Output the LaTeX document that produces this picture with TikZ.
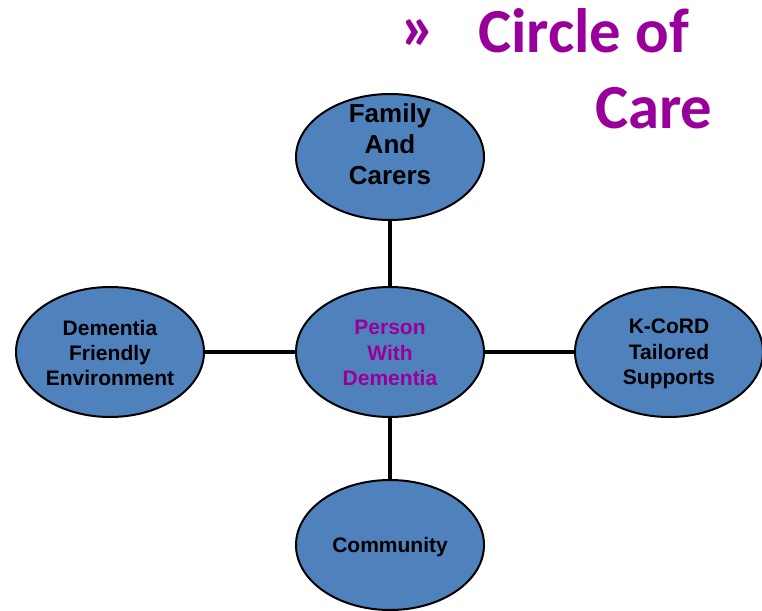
\documentclass[tikz,border=0pt]{standalone}
\usepackage{fontspec}
\setmainfont{Liberation Sans}
\newfontfamily\titlefont{Carlito}
\usetikzlibrary{shapes.geometric}
\definecolor{careblue}{HTML}{4F81BD}
\definecolor{carepurple}{HTML}{990099}
\tikzset{
  blob/.style={ellipse, draw=black, line width=1.5pt, fill=careblue,
    minimum width=141pt, minimum height=97.5pt, inner sep=0pt},
  blobtext/.style={align=center, font=\bfseries\fontsize{15.75pt}{18.9pt}\selectfont},
  link/.style={line width=3.5pt}
}
\begin{document}
\begin{tikzpicture}[x=0.75pt, y=-0.75pt]
\useasboundingbox (0,0) rectangle (762,610);

\node[blob, minimum height=94.5pt] (family) at (390,157) {};
\node[blob] (person) at (390,352) {};
\node[blob] (friendly) at (110,352) {};
\node[blob] (kcord) at (669,352) {};
\node[blob] (community) at (390,545) {};

\draw[link] (person) -- (family);
\draw[link] (person) -- (friendly);
\draw[link] (person) -- (kcord);
\draw[link] (person) -- (community);

\node[blobtext, font=\bfseries\fontsize{19.5pt}{23.4pt}\selectfont] (familytext) at (390,144) {Family\\And\\Carers};
\node[blobtext, text=carepurple] (persontext) at (390,353) {Person\\With\\Dementia};
\node[blobtext] (friendlytext) at (110,353) {Dementia\\Friendly\\Environment};
\node[blobtext] (kcordtext) at (669,354) {K-CoRD\\Tailored\\Supports};
\node[blobtext] (communitytext) at (390,547) {Community};

\node[inner sep=0pt, text=carepurple, font=\titlefont\bfseries\fontsize{50pt}{50pt}\selectfont] (mark) at (418,35) {»};
\node[anchor=base west, inner sep=0pt, text=carepurple, font=\titlefont\bfseries\fontsize{47pt}{47pt}\selectfont] (title1) at (478,52) {Circle of};
\node[anchor=base west, inner sep=0pt, text=carepurple, font=\titlefont\bfseries\fontsize{47pt}{47pt}\selectfont] (title2) at (595,128) {Care};

\end{tikzpicture}
\end{document}
